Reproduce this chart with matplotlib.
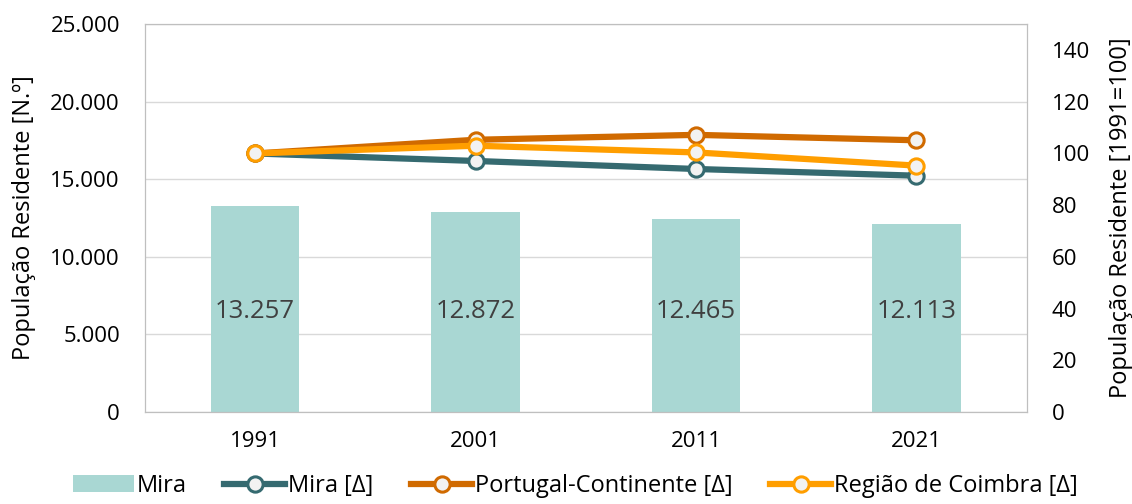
import matplotlib.pyplot as plt
import numpy as np

plt.rcParams['font.family'] = ['Open Sans', 'DejaVu Sans']

anos = ['1991', '2001', '2011', '2021']
mira_pop = [13257, 12872, 12465, 12113]
mira_idx = [100, 97.1, 94.0, 91.4]
continente_idx = [100, 105.3, 107.2, 105.1]
coimbra_idx = [100, 103.0, 100.4, 95.3]

def fmt(v):
    return f'{v:,.0f}'.replace(',', '.')

fig = plt.figure(figsize=(11.32, 5.04), dpi=100)
ax = fig.add_axes([0.128, 0.1825, 0.779, 0.7695])
x = np.arange(len(anos))

bars = ax.bar(x, mira_pop, width=0.4, color='#A9D7D3', zorder=2, label='Mira')
for b, v in zip(bars, mira_pop):
    ax.text(b.get_x() + b.get_width() / 2, 6500, fmt(v), ha='center', va='center',
            fontsize=18.5, color='#404040', zorder=3)

ax.set_ylim(0, 25000)
ax.set_yticks(range(0, 25001, 5000))
ax.set_yticklabels([fmt(v) for v in range(0, 25001, 5000)])
ax.set_xlim(-0.5, 3.5)
ax.set_xticks(x)
ax.set_xticklabels(anos)
ax.grid(axis='y', color='#d9d9d9', linewidth=1, zorder=0)
ax.set_ylabel('População Residente [N.º]', fontsize=17, labelpad=10)
ax.tick_params(axis='y', labelsize=16, length=0, pad=18)
ax.tick_params(axis='x', labelsize=16, length=0, pad=14)
for s in ax.spines.values():
    s.set_color('#bfbfbf')

ax2 = ax.twinx()
ax2.set_ylim(0, 150)
ax2.set_yticks(range(0, 141, 20))
ax2.tick_params(axis='y', labelsize=16, length=0, pad=18)
ax2.set_ylabel('População Residente [1991=100]', fontsize=17, labelpad=14)
for s in ax2.spines.values():
    s.set_color('#bfbfbf')

mk = dict(marker='o', markersize=11, markerfacecolor='#f2f2f2', markeredgewidth=2.2, linewidth=4.5)
ax2.plot(x, mira_idx, color='#356A70', label='Mira [Δ]', **mk)
ax2.plot(x, continente_idx, color='#D06A00', label='Portugal-Continente [Δ]', **mk)
ax2.plot(x, coimbra_idx, color='#FF9E00', label='Região de Coimbra [Δ]', **mk)

h1, l1 = ax.get_legend_handles_labels()
h2, l2 = ax2.get_legend_handles_labels()
fig.legend(h1 + h2, l1 + l2, loc='lower center', bbox_to_anchor=(0.508, -0.03), ncol=4,
           frameon=False, fontsize=17, handlelength=2.6, columnspacing=1.6, handletextpad=0.1)

plt.savefig('out.png', dpi=100)
